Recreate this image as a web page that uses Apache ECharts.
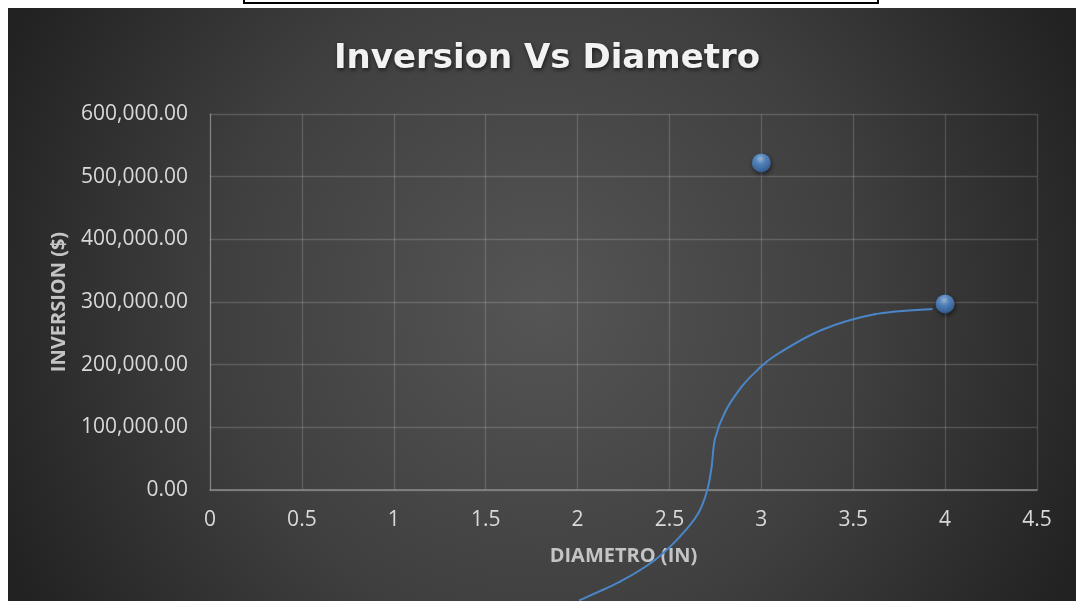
<!DOCTYPE html>
<html>
<head>
<meta charset="utf-8">
<script src="https://cdn.jsdelivr.net/npm/echarts@6/dist/echarts.min.js"></script>
<style>
  html, body { margin: 0; padding: 0; background: #ffffff; }
  #chart { width: 1076px; height: 601px; }
</style>
</head>
<body>
<div id="chart"></div>
<script>
// Measured points: diameter (in) vs investment ($)
const diametro = [3, 4];
const inversion = [522000, 297000];

// Hand-drawn trend curve through the chart
const curveX = [2.013, 2.231, 2.421, 2.557, 2.657, 2.706, 2.730, 2.748, 2.802, 2.890, 2.977, 3.080, 3.328, 3.617, 3.927];
const curveY = [-175500, -146300, -111700, -74500, -37200, 0, 38300, 81900, 124000, 163600, 190900, 215400, 255300, 280400, 288800];

// Axis ticks
const xTicks = { min: 0, max: 4.5, step: 0.5 };
const yTicks = { min: 0, max: 600000, step: 100000 };

const scatterData = diametro.map((d, i) => [d, inversion[i]]);
const curveData = curveX.map((x, i) => [x, curveY[i]]);

function money(v) {
  return v.toFixed(2).replace(/\B(?=(\d{3})+(?!\d))/g, ',');
}

// Draws the whole curve once as a chain of cubic Bézier pieces (Catmull-Rom style)
function renderCurve(params, api) {
  if (params.dataIndex !== 0) return null;
  const p = curveData.map(d => api.coord(d));
  const n = p.length;
  const children = [];
  for (let i = 0; i < n - 1; i++) {
    const p0 = p[Math.max(i - 1, 0)];
    const p1 = p[i];
    const p2 = p[i + 1];
    const p3 = p[Math.min(i + 2, n - 1)];
    children.push({
      type: 'bezierCurve',
      shape: {
        x1: p1[0], y1: p1[1],
        cpx1: p1[0] + (p2[0] - p0[0]) / 6, cpy1: p1[1] + (p2[1] - p0[1]) / 6,
        cpx2: p2[0] - (p3[0] - p1[0]) / 6, cpy2: p2[1] - (p3[1] - p1[1]) / 6,
        x2: p2[0], y2: p2[1]
      },
      style: { stroke: '#4a86c8', lineWidth: 2, fill: null, lineCap: 'round' }
    });
  }
  return { type: 'group', children: children };
}

const chart = echarts.init(document.getElementById('chart'), null, { renderer: 'canvas' });

const labelFont = { color: '#d9d9d9', fontFamily: 'Open Sans', fontSize: 21 };
const nameFont = { color: '#c4c4c4', fontFamily: 'Open Sans', fontSize: 20, fontWeight: 'bold' };

chart.setOption({
  animation: false,
  backgroundColor: '#ffffff',
  graphic: [
    {
      type: 'rect', z: -10, silent: true,
      shape: { x: 8, y: 8, width: 1068, height: 593 },
      style: {
        fill: {
          type: 'radial', x: 0.5, y: 0.5, r: 1.0,
          colorStops: [
            { offset: 0, color: '#555555' },
            { offset: 0.55, color: '#3f3f3f' },
            { offset: 1, color: '#222222' }
          ]
        }
      }
    },
    {
      type: 'rect', z: 10, silent: true,
      shape: { x: 244, y: -10, width: 634, height: 13 },
      style: { fill: '#ffffff', stroke: '#000000', lineWidth: 2 }
    }
  ],
  title: {
    text: 'Inversion Vs Diametro',
    left: 542, top: 37, textAlign: 'center',
    textStyle: {
      color: '#f2f2f2', fontFamily: 'DejaVu Sans', fontWeight: 'bold', fontSize: 34,
      textShadowColor: 'rgba(0,0,0,0.6)', textShadowBlur: 4, textShadowOffsetX: 1, textShadowOffsetY: 2
    }
  },
  grid: { left: 210, right: 39, top: 114, bottom: 111, containLabel: false },
  xAxis: {
    type: 'value', min: xTicks.min, max: xTicks.max, interval: xTicks.step,
    name: 'DIAMETRO (IN)', nameLocation: 'middle', nameGap: 56,
    nameTextStyle: nameFont,
    axisLine: { show: true, lineStyle: { color: '#8a8a8a', width: 1.5 } },
    axisTick: { show: false },
    axisLabel: Object.assign({ margin: 20 }, labelFont),
    splitLine: { show: true, lineStyle: { color: 'rgba(255,255,255,0.16)', width: 1.3 } }
  },
  yAxis: {
    type: 'value', min: yTicks.min, max: yTicks.max, interval: yTicks.step,
    name: 'INVERSION ($)', nameLocation: 'middle', nameGap: 141, nameRotate: 90,
    nameTextStyle: nameFont,
    axisLine: { show: true, lineStyle: { color: 'rgba(255,255,255,0.25)', width: 1.3 } },
    axisTick: { show: false },
    axisLabel: Object.assign({ margin: 22, formatter: money }, labelFont),
    splitLine: { show: true, lineStyle: { color: 'rgba(255,255,255,0.16)', width: 1.3 } }
  },
  series: [
    {
      type: 'custom', data: curveData, renderItem: renderCurve, clip: false,
      silent: true, z: 2
    },
    {
      type: 'scatter', data: scatterData, symbol: 'circle', symbolSize: 19, z: 3,
      itemStyle: {
        color: {
          type: 'radial', x: 0.45, y: 0.3, r: 0.75,
          colorStops: [
            { offset: 0, color: '#b4d6fa' },
            { offset: 0.35, color: '#5f9be0' },
            { offset: 0.8, color: '#3f74b6' },
            { offset: 1, color: '#2b5690' }
          ]
        },
        shadowColor: 'rgba(0,0,0,0.7)', shadowBlur: 5, shadowOffsetX: 1, shadowOffsetY: 2
      }
    }
  ]
});
</script>
</body>
</html>
